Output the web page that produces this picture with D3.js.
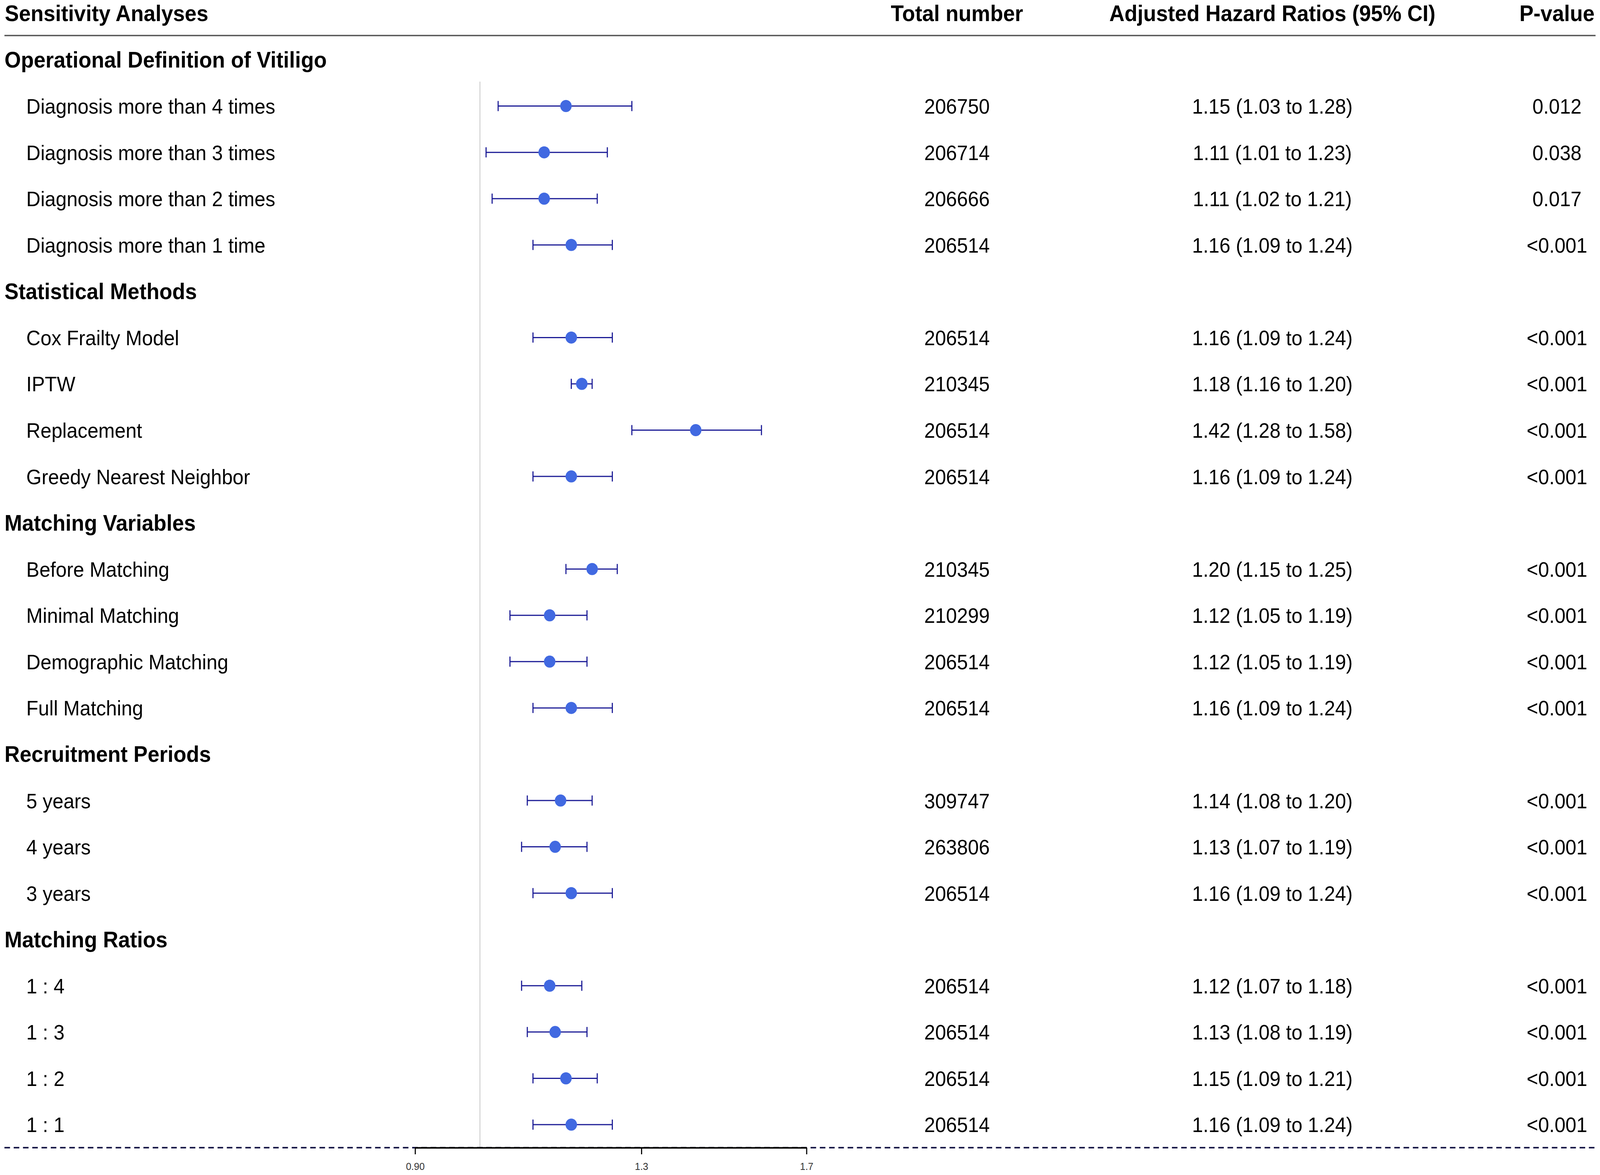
<!DOCTYPE html>
<html>
<head>
<meta charset="utf-8">
<script src="https://cdn.jsdelivr.net/npm/d3@7"></script>
<style>
  html, body { margin: 0; padding: 0; background: #fff; overflow: hidden; width: 100%; height: 100%; }
  svg { display: block; width: 100vw; height: 100vh; }
  text { font-family: "Liberation Sans", Arial, Helvetica, sans-serif; }
</style>
</head>
<body>
<script>
// ---------------- DATA ----------------
const columnHeaders = ["Sensitivity Analyses", "Total number", "Adjusted Hazard Ratios (95% CI)", "P-value"];
const sectionNames = [
  "Operational Definition of Vitiligo",
  "Statistical Methods",
  "Matching Variables",
  "Recruitment Periods",
  "Matching Ratios"
];
const rowSection = [0,0,0,0, 1,1,1,1, 2,2,2,2, 3,3,3, 4,4,4,4];
const rowLabels = [
  "Diagnosis more than 4 times",
  "Diagnosis more than 3 times",
  "Diagnosis more than 2 times",
  "Diagnosis more than 1 time",
  "Cox Frailty Model",
  "IPTW",
  "Replacement",
  "Greedy Nearest Neighbor",
  "Before Matching",
  "Minimal Matching",
  "Demographic Matching",
  "Full Matching",
  "5 years",
  "4 years",
  "3 years",
  "1 : 4",
  "1 : 3",
  "1 : 2",
  "1 : 1"
];
const totals = [206750, 206714, 206666, 206514, 206514, 210345, 206514, 206514, 210345, 210299, 206514, 206514, 309747, 263806, 206514, 206514, 206514, 206514, 206514];
const hr     = [1.15, 1.11, 1.11, 1.16, 1.16, 1.18, 1.42, 1.16, 1.20, 1.12, 1.12, 1.16, 1.14, 1.13, 1.16, 1.12, 1.13, 1.15, 1.16];
const lower  = [1.03, 1.01, 1.02, 1.09, 1.09, 1.16, 1.28, 1.09, 1.15, 1.05, 1.05, 1.09, 1.08, 1.07, 1.09, 1.07, 1.08, 1.09, 1.09];
const upper  = [1.28, 1.23, 1.21, 1.24, 1.24, 1.20, 1.58, 1.24, 1.25, 1.19, 1.19, 1.24, 1.20, 1.19, 1.24, 1.18, 1.19, 1.21, 1.24];
const pvals  = ["0.012", "0.038", "0.017", "<0.001", "<0.001", "<0.001", "<0.001", "<0.001", "<0.001", "<0.001", "<0.001", "<0.001", "<0.001", "<0.001", "<0.001", "<0.001", "<0.001", "<0.001", "<0.001"];
const tickValues = [0.9, 1.3, 1.7];
const tickLabels = ["0.90", "1.3", "1.7"];
const refValue = 1;

// ---------------- LAYOUT ----------------
const W = 4317, H = 3009;
const svg = d3.select("body").append("svg")
  .attr("viewBox", `0 0 ${W} ${H}`)
  .attr("preserveAspectRatio", "none");

// build line list: sections interleaved with rows
const lines = [];
sectionNames.forEach((s, si) => {
  lines.push({type: "section", label: s});
  rowLabels.forEach((l, i) => {
    if (rowSection[i] === si) lines.push({type: "row", idx: i});
  });
});

const y = d3.scaleLinear().domain([0, lines.length - 1]).range([153, 2880]);
const x = d3.scaleLog().domain([0.9, 1.7]).range([1120, 2176]);

const colN = 2582, colHR = 3433, colP = 4201;
const boldFS = 57, regFS = 53;
const axisY = 2939;

// header
const hdr = svg.append("g").attr("font-weight", "bold").attr("font-size", boldFS).attr("fill", "#000");
hdr.append("text").attr("x", 13).attr("y", 54).text(columnHeaders[0]);
hdr.append("text").attr("x", colN).attr("y", 54).attr("text-anchor", "middle").text(columnHeaders[1]);
hdr.append("text").attr("x", colHR).attr("y", 54).attr("text-anchor", "middle").text(columnHeaders[2]);
hdr.append("text").attr("x", colP).attr("y", 54).attr("text-anchor", "middle").text(columnHeaders[3]);
svg.append("line").attr("x1", 12).attr("x2", 4305).attr("y1", 91).attr("y2", 91)
  .attr("stroke", "#555").attr("stroke-width", 3.5);

// reference line
svg.append("line").attr("x1", x(refValue)).attr("x2", x(refValue))
  .attr("y1", 209).attr("y2", axisY).attr("stroke", "#cfcfcf").attr("stroke-width", 2.5);

// dashed baseline
svg.append("line").attr("x1", 12).attr("x2", 4305).attr("y1", axisY).attr("y2", axisY)
  .attr("stroke", "#1b1b4a").attr("stroke-width", 4).attr("stroke-dasharray", "15,10");

// axis
const axis = d3.axisBottom(x).tickValues(tickValues)
  .tickFormat((d, i) => tickLabels[i]).tickSize(17).tickSizeOuter(0).tickPadding(22);
const ag = svg.append("g").attr("transform", `translate(0,${axisY})`).call(axis);
ag.select(".domain").attr("stroke", "#000").attr("stroke-width", 4).attr("fill", "none");
ag.selectAll(".tick line").attr("stroke", "#000").attr("stroke-width", 3);
ag.selectAll(".tick text").attr("font-size", 26).attr("fill", "#333")
  .attr("font-family", "'Liberation Sans', Arial, sans-serif");

// section headers
svg.append("g").selectAll("text")
  .data(lines.map((l, i) => ({...l, li: i})).filter(l => l.type === "section"))
  .join("text")
  .attr("x", 12).attr("y", d => y(d.li) + 20)
  .attr("font-size", boldFS).attr("font-weight", "bold").attr("fill", "#000")
  .text(d => d.label);

const rows = lines.map((l, i) => ({...l, li: i})).filter(l => l.type === "row");

// row labels and columns
const rg = svg.append("g").attr("font-size", regFS).attr("fill", "#000");
rg.selectAll("text.lab").data(rows).join("text").attr("class", "lab")
  .attr("x", 71).attr("y", d => y(d.li) + 19.5).text(d => rowLabels[d.idx]);
rg.selectAll("text.n").data(rows).join("text").attr("class", "n")
  .attr("x", colN).attr("text-anchor", "middle").attr("y", d => y(d.li) + 19.5)
  .text(d => String(totals[d.idx]));
rg.selectAll("text.hr").data(rows).join("text").attr("class", "hr")
  .attr("x", colHR).attr("text-anchor", "middle").attr("y", d => y(d.li) + 19.5)
  .text(d => `${hr[d.idx].toFixed(2)} (${lower[d.idx].toFixed(2)} to ${upper[d.idx].toFixed(2)})`);
rg.selectAll("text.p").data(rows).join("text").attr("class", "p")
  .attr("x", colP).attr("text-anchor", "middle").attr("y", d => y(d.li) + 19.5)
  .text(d => pvals[d.idx]);

// error bars
const barColor = "#1c1c96", dotColor = "#4169E1", capH = 13;
const eb = svg.append("g").attr("stroke", barColor).attr("stroke-width", 3);
eb.selectAll("line.ci").data(rows).join("line").attr("class", "ci")
  .attr("x1", d => x(lower[d.idx])).attr("x2", d => x(upper[d.idx]))
  .attr("y1", d => y(d.li)).attr("y2", d => y(d.li));
eb.selectAll("line.capL").data(rows).join("line").attr("class", "capL")
  .attr("x1", d => x(lower[d.idx])).attr("x2", d => x(lower[d.idx]))
  .attr("y1", d => y(d.li) - capH).attr("y2", d => y(d.li) + capH);
eb.selectAll("line.capR").data(rows).join("line").attr("class", "capR")
  .attr("x1", d => x(upper[d.idx])).attr("x2", d => x(upper[d.idx]))
  .attr("y1", d => y(d.li) - capH).attr("y2", d => y(d.li) + capH);

// points
svg.append("g").selectAll("circle").data(rows).join("circle")
  .attr("cx", d => x(hr[d.idx])).attr("cy", d => y(d.li)).attr("r", 15.5)
  .attr("fill", dotColor);
</script>
</body>
</html>
